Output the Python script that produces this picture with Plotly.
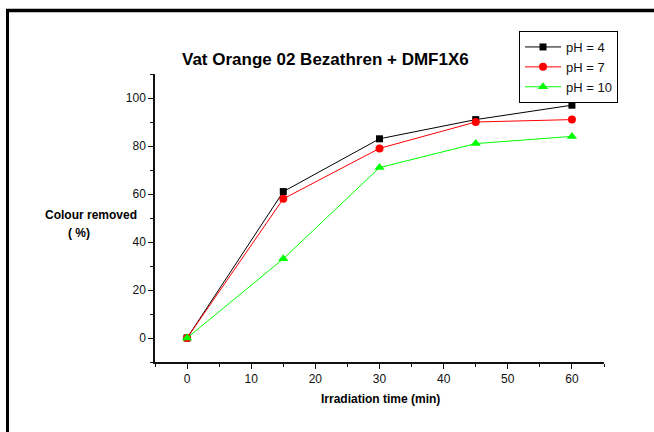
import plotly.graph_objects as go

# Data
time_min = [0, 15, 30, 45, 60]
ph4 = [0, 61, 83, 91, 97]
ph7 = [0, 58, 79, 90, 91]
ph10 = [0, 33, 71, 81, 84]
series_names = ["pH = 4", "pH = 7", "pH = 10"]

W, H = 654, 432
L, R, T, B = 155, 50, 74, 70
PW, PH = W - L - R, H - T - B

def px_x(p):
    return (p - L) / PW

def px_y(p):
    return 1 + (T - p) / PH

FONT = "Liberation Sans, Arial"

fig = go.Figure()
fig.add_trace(go.Scatter(x=time_min, y=ph4, mode="lines+markers", name=series_names[0],
                         line=dict(color="black", width=1),
                         marker=dict(symbol="square", size=7, color="black")))
fig.add_trace(go.Scatter(x=time_min, y=ph7, mode="lines+markers", name=series_names[1],
                         line=dict(color="#ff0000", width=1),
                         marker=dict(symbol="circle", size=8, color="#ff0000")))
fig.add_trace(go.Scatter(x=time_min, y=ph10, mode="lines+markers", name=series_names[2],
                         line=dict(color="#00ff00", width=1),
                         marker=dict(symbol="triangle-up", size=9, color="#00ff00")))

axis_common = dict(showline=True, linecolor="#111", linewidth=1.5, ticks="outside",
                   ticklen=5, tickwidth=1.2, tickcolor="#111", showgrid=False, zeroline=False,
                   tickfont=dict(family=FONT, size=12, color="#111"))

fig.update_xaxes(range=[-5, 65], tick0=0, dtick=10,
                 minor=dict(dtick=5, ticks="outside", ticklen=3, tickcolor="#111", showgrid=False),
                 **axis_common)
fig.update_yaxes(range=[-10, 110], tick0=0, dtick=20,
                 minor=dict(dtick=10, ticks="outside", ticklen=3, tickcolor="#111", showgrid=False),
                 **axis_common)

fig.update_layout(
    width=W, height=H,
    margin=dict(l=L, r=R, t=T, b=B),
    paper_bgcolor="white", plot_bgcolor="white",
    font=dict(family=FONT, color="black"),
    showlegend=True,
    legend=dict(x=px_x(519), y=px_y(31), xanchor="left", yanchor="top",
                bordercolor="black", borderwidth=1, bgcolor="white",
                font=dict(size=13, family=FONT, color="#111"),
                itemwidth=36, tracegroupgap=0),
    annotations=[
        dict(text="<b>Vat Orange 02 Bezathren + DMF1X6</b>", x=px_x(325), y=px_y(60),
             xref="paper", yref="paper", showarrow=False, xanchor="center", yanchor="middle",
             font=dict(size=17, family=FONT, color="black")),
        dict(text="<b>Colour removed</b>", x=px_x(91), y=px_y(215),
             xref="paper", yref="paper", showarrow=False, xanchor="center", yanchor="middle",
             font=dict(size=12, family=FONT, color="black")),
        dict(text="<b>( %)</b>", x=px_x(79), y=px_y(233),
             xref="paper", yref="paper", showarrow=False, xanchor="center", yanchor="middle",
             font=dict(size=12, family=FONT, color="black")),
        dict(text="<b>Irradiation time (min)</b>", x=px_x(380), y=px_y(399),
             xref="paper", yref="paper", showarrow=False, xanchor="center", yanchor="middle",
             font=dict(size=12, family=FONT, color="black")),
    ],
    shapes=[
        dict(type="line", xref="paper", yref="paper", x0=px_x(6), y0=px_y(10.5),
             x1=px_x(654), y1=px_y(10.5), line=dict(color="black", width=3.5), layer="above"),
        dict(type="line", xref="paper", yref="paper", x0=px_x(7.5), y0=px_y(9),
             x1=px_x(7.5), y1=px_y(432), line=dict(color="black", width=3), layer="above"),
    ],
)

fig.write_html("out.html", config={"displayModeBar": False},
               post_script="document.body.style.margin='0';document.body.style.overflow='hidden';")
